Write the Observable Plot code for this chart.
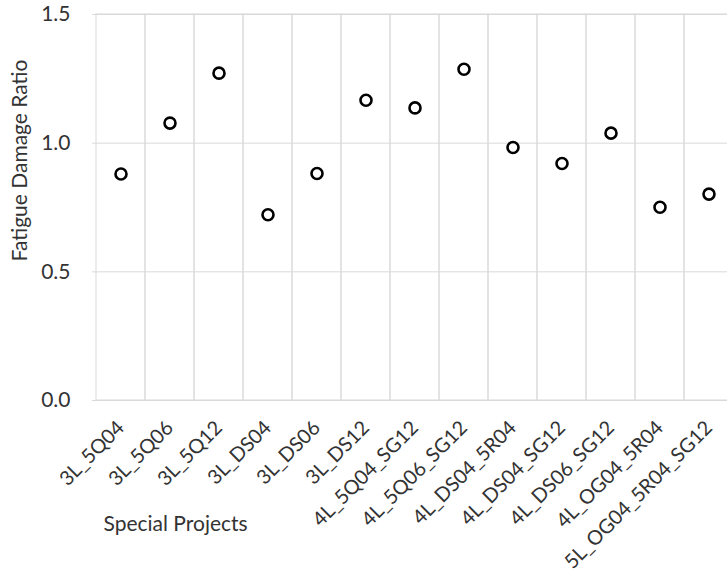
<!DOCTYPE html>
<html><head><meta charset="utf-8">
<script src="https://cdn.jsdelivr.net/npm/d3@7"></script>
<script src="https://cdn.jsdelivr.net/npm/@observablehq/plot@0.6"></script>
<style>
body{margin:0;background:#fff;overflow:hidden;}
#chart{width:727px;height:577px;overflow:hidden;position:relative;}
</style></head><body><div id="chart"></div>
<script>
const projects = ["3L_5Q04","3L_5Q06","3L_5Q12","3L_DS04","3L_DS06","3L_DS12","4L_5Q04_SG12","4L_5Q06_SG12","4L_DS04_5R04","4L_DS04_SG12","4L_DS06_SG12","4L_OG04_5R04","5L_OG04_5R04_SG12"];
const ratios = [0.88, 1.078, 1.272, 0.722, 0.882, 1.167, 1.137, 1.287, 0.983, 0.921, 1.039, 0.751, 0.802];
const yTicks = [0, 0.5, 1.0, 1.5];
const yTitle = "Fatigue Damage Ratio";
const xTitle = "Special Projects";

const data = projects.map((p, i) => ({project: p, ratio: ratios[i]}));
const gridColor = "#d9d9d9";

const chart = Plot.plot({
  width: 727,
  height: 577,
  marginLeft: 92,
  marginRight: -9,
  marginTop: 14,
  marginBottom: 177,
  style: {fontFamily: "Lato, sans-serif", fontSize: "21px", color: "#333", background: "#fff", overflow: "hidden"},
  x: {type: "band", domain: projects, padding: 0},
  y: {domain: [0, 1.5]},
  marks: [
    Plot.cell(projects, {x: d => d, fill: "none", stroke: gridColor, strokeWidth: 1}),
    Plot.gridY(yTicks, {stroke: gridColor, strokeOpacity: 1, strokeWidth: 1}),
    Plot.axisY({ticks: yTicks, tickFormat: d3.format(".1f"), tickSize: 0, tickPadding: 22, label: null}),
    Plot.axisX({tickRotate: -45, tickSize: 0, tickPadding: 24, label: null, fontSize: 20}),
    Plot.text([xTitle], {frameAnchor: "bottom-left", textAnchor: "start", dx: 11, dy: 130, fill: "#333"}),
    Plot.text([yTitle], {frameAnchor: "left", textAnchor: "middle", rotate: -90, dx: -72, dy: -47, fill: "#333"}),
    Plot.dot(data, {x: "project", y: "ratio", r: 5.5, stroke: "#000", strokeWidth: 2.6, fill: "none"})
  ]
});
document.getElementById("chart").appendChild(chart);
</script>
</body></html>
